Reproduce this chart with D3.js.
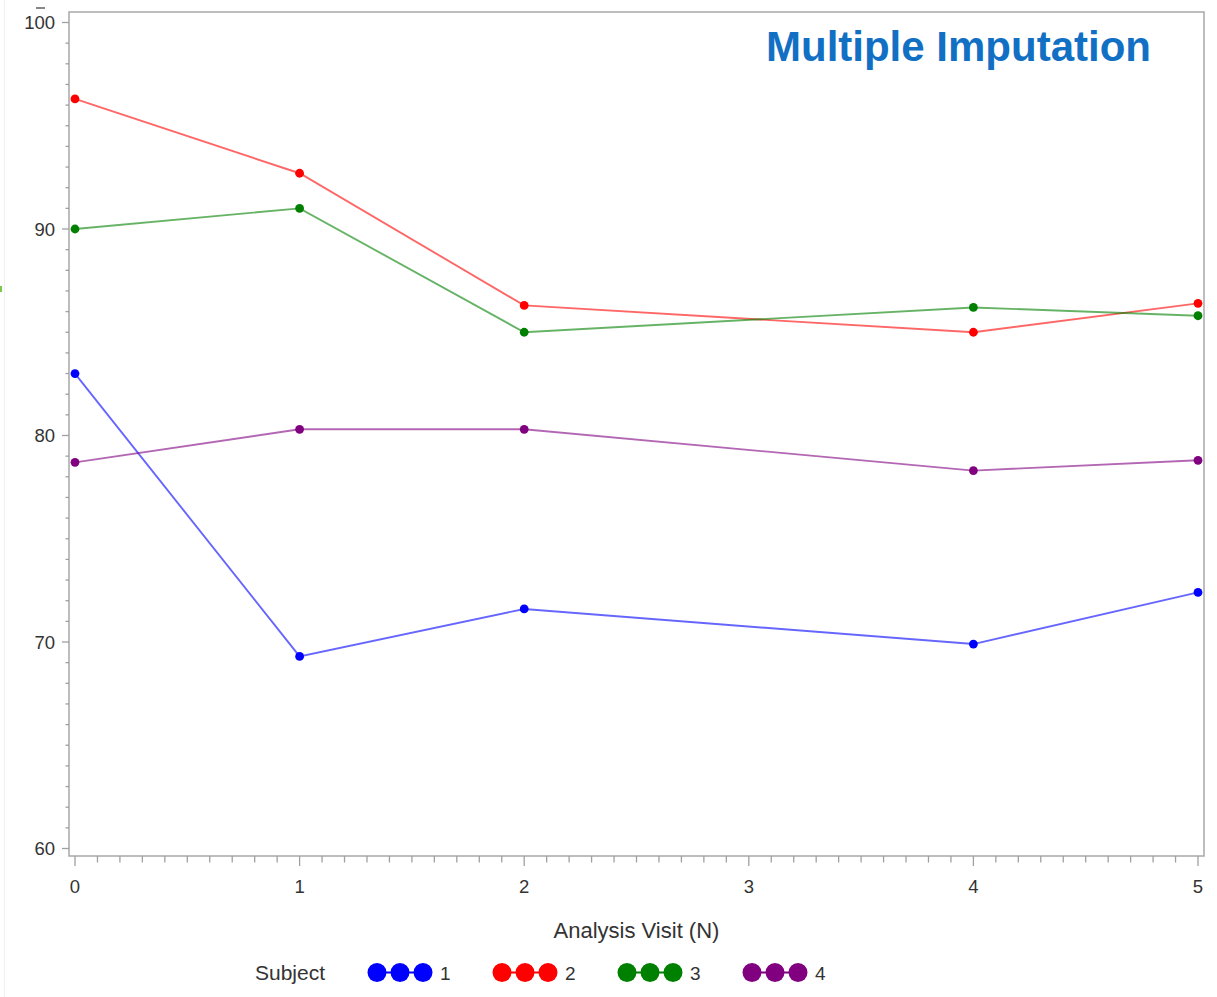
<!DOCTYPE html>
<html>
<head>
<meta charset="utf-8">
<script src="https://cdn.jsdelivr.net/npm/d3@7"></script>
<style>
  html, body { margin: 0; padding: 0; background: #fff; }
  svg { display: block; }
</style>
</head>
<body>
<script>
// ---- data ----
const visits = [0, 1, 2, 4, 5];
const subjects = ["1", "2", "3", "4"];
const subject1 = [83.0, 69.3, 71.6, 69.9, 72.4];
const subject2 = [96.3, 92.7, 86.3, 85.0, 86.4];
const subject3 = [90.0, 91.0, 85.0, 86.2, 85.8];
const subject4 = [78.7, 80.3, 80.3, 78.3, 78.8];
const xTicks = [0, 1, 2, 3, 4, 5];
const yTicks = [60, 70, 80, 90, 100];
const colors = ["#0000ff", "#ff0000", "#008000", "#800080"];
const titleText = "Multiple Imputation";
const xLabel = "Analysis Visit (N)";
const legendTitle = "Subject";

const series = [subject1, subject2, subject3, subject4];

const W = 1217, H = 997;
const frame = { left: 69, right: 1204, top: 12, bottom: 856 };

const svg = d3.select("body").append("svg").attr("width", W).attr("height", H);

const x = d3.scaleLinear().domain([0, 5]).range([75, 1198]);
const y = d3.scaleLinear().domain([60, 100]).range([848.5, 22.5]);

// faint artifacts at left edge
svg.append("line").attr("x1", 4.5).attr("x2", 4.5).attr("y1", 0).attr("y2", H)
  .attr("stroke", "#f0f0f0").attr("stroke-width", 1);
svg.append("rect").attr("x", 0).attr("y", 286).attr("width", 2).attr("height", 6).attr("fill", "#7cc84a");

// frame
svg.append("rect")
  .attr("x", frame.left).attr("y", frame.top)
  .attr("width", frame.right - frame.left).attr("height", frame.bottom - frame.top)
  .attr("fill", "none").attr("stroke", "#a8a8a8").attr("stroke-width", 1.5);

const font = "'Liberation Sans', Arial, sans-serif";
const textColor = "#333333";

// y axis
const yAxisG = svg.append("g").attr("transform", `translate(${frame.left},0)`);
const yMinor = d3.range(60, 101, 1);
yAxisG.selectAll("line.minor").data(yMinor).join("line")
  .attr("x1", d => (d % 10 === 0 ? -7 : -3.5)).attr("x2", 0)
  .attr("y1", d => y(d)).attr("y2", d => y(d))
  .attr("stroke", "#a0a0a0").attr("stroke-width", 1.3);
yAxisG.selectAll("text").data(yTicks).join("text")
  .attr("x", -14).attr("y", d => y(d)).attr("dy", "0.36em")
  .attr("text-anchor", "end")
  .attr("font-family", font).attr("font-size", 18.5).attr("fill", textColor)
  .text(d => d);
// small overline artifact above the "100" label
svg.append("line").attr("x1", 36).attr("x2", 45).attr("y1", 8).attr("y2", 8)
  .attr("stroke", "#555").attr("stroke-width", 1.4);

// x axis
const xAxisG = svg.append("g").attr("transform", `translate(0,${frame.bottom})`);
const xMinor = d3.range(0, 51, 1).map(d => d / 10);
xAxisG.selectAll("line.minor").data(xMinor).join("line")
  .attr("x1", d => x(d)).attr("x2", d => x(d))
  .attr("y1", 0).attr("y2", (d, i) => (i % 10 === 0 ? 10 : 6.5))
  .attr("stroke", "#a0a0a0").attr("stroke-width", 1.3);
xAxisG.selectAll("text").data(xTicks).join("text")
  .attr("x", d => x(d)).attr("y", 37)
  .attr("text-anchor", "middle")
  .attr("font-family", font).attr("font-size", 18.5).attr("fill", textColor)
  .text(d => d);

// x label
svg.append("text")
  .attr("x", (frame.left + frame.right) / 2).attr("y", 938)
  .attr("text-anchor", "middle")
  .attr("font-family", font).attr("font-size", 22).attr("fill", textColor)
  .text(xLabel);

// lines and markers
const line = d3.line().x((d, i) => x(visits[i])).y(d => y(d));
series.forEach((vals, si) => {
  svg.append("path").datum(vals)
    .attr("d", line)
    .attr("fill", "none")
    .attr("stroke", colors[si]).attr("stroke-opacity", 0.6)
    .attr("stroke-width", 1.9);
});
series.forEach((vals, si) => {
  svg.append("g").selectAll("circle").data(vals).join("circle")
    .attr("cx", (d, i) => x(visits[i])).attr("cy", d => y(d))
    .attr("r", 4.4).attr("fill", colors[si]);
});

// title
svg.append("text")
  .attr("x", 766).attr("y", 61)
  .attr("font-family", font).attr("font-weight", "bold")
  .attr("font-size", 42).attr("fill", "#1170c4")
  .text(titleText);

// legend
const lg = svg.append("g");
lg.append("text").attr("x", 255).attr("y", 980)
  .attr("font-family", font).attr("font-size", 21).attr("fill", textColor)
  .text(legendTitle);
subjects.forEach((s, i) => {
  const cx0 = 377 + i * 125;
  const cy = 972.5;
  lg.append("line").attr("x1", cx0).attr("x2", cx0 + 46).attr("y1", cy).attr("y2", cy)
    .attr("stroke", colors[i]).attr("stroke-width", 2);
  [0, 1, 2].forEach(k => {
    lg.append("circle").attr("cx", cx0 + k * 23).attr("cy", cy).attr("r", 9.5).attr("fill", colors[i]);
  });
  lg.append("text").attr("x", cx0 + 63).attr("y", 980)
    .attr("font-family", font).attr("font-size", 19).attr("fill", textColor)
    .text(s);
});
</script>
</body>
</html>
